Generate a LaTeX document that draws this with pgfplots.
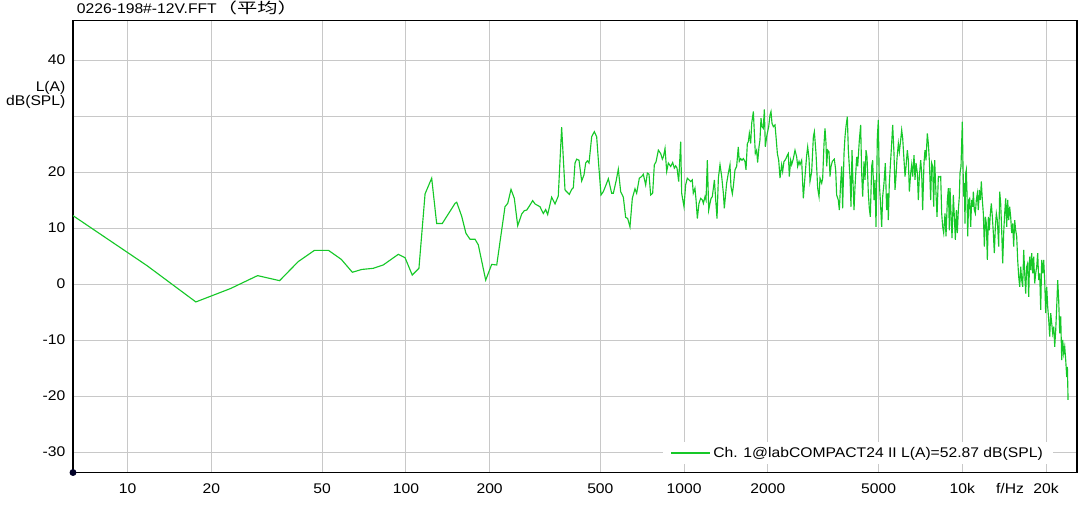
\documentclass[border=0pt]{standalone}
\usepackage{fontspec}
\usepackage{graphicx}
\setmainfont[FakeStretch=1.12]{Liberation Sans}
\newfontfamily\cjk{Noto Sans CJK SC}
\usepackage{pgfplots}
\pgfplotsset{compat=1.18}
\definecolor{curvegreen}{RGB}{22,200,40}
\definecolor{gridgray}{RGB}{200,200,200}
\newcommand{\lblfont}{\fontsize{10.5}{12}\selectfont}
\begin{document}
\begin{tikzpicture}
\begin{axis}[
  name=ax, at={(0pt,0pt)}, anchor=south west,
  scale only axis, width=753pt, height=339pt,
  xmode=log, xmin=6.36, xmax=25840, ymin=-33.66, ymax=47.05,
  xtick={10,20,50,100,200,500,1000,2000,5000,10000,20000},
  xticklabels={10,20,50,100,200,500,1000,2000,5000,10k,20k},
  extra x ticks={14840}, extra x tick labels={f/Hz},
  extra x tick style={grid=none},
  ytick={-30,-20,-10,0,10,20,30,40},
  yticklabels={-30,-20,-10,0,10,20,{},40},
  grid=major, major grid style={draw=gridgray, line width=0.75pt},
  major tick length=0pt, minor tick length=0pt,
  axis line style={line width=1pt, black},
  /pgf/number format/assume math mode=true,
  tick label style={font=\lblfont, inner sep=0pt},
  xticklabel style={anchor=base, yshift=-15.4pt},
  yticklabel style={anchor=east, xshift=-5.5pt},
  legend style={at={(0.9768,0.0431)}, anchor=east, draw=none, fill=white,
    inner xsep=6pt, inner ysep=2pt, font=\lblfont},
  legend cell align=left,
  legend image code/.code={\draw[curvegreen, line width=0.9pt] (-2pt,0pt) -- (27pt,0pt);},
]
\addplot[curvegreen, line width=0.85pt] table {
f db
5.86 13.4
11.72 3.3
17.58 -3.2
23.44 -0.8
29.30 1.5
35.16 0.6
41.02 4.0
46.88 6.0
52.73 6.0
58.59 4.4
64.2 2.1
69.4 2.6
76.3 2.8
82.9 3.4
93.9 5.3
99.3 4.7
105.4 1.6
111.4 2.8
117.2 16.1
123.8 18.9
129.0 10.8
135.1 10.8
150.2 14.4
152.3 14.6
158.7 12.1
164.4 9.05
170.0 8.0
177.2 8.0
182.1 7.0
193.6 0.7
203.4 3.5
212.1 3.4
227.1 13.8
232.3 14.4
238.7 16.9
245.3 15.3
252.3 10.4
260.8 12.5
266.5 13.1
271.8 13.2
277.7 13.9
285.6 14.9
291.1 14.3
303.4 13.8
311.9 12.6
318.0 13.3
323.3 12.4
334.2 15.5
343.6 14.3
353.0 15.7
363.0 28.0
373.2 16.8
386.8 16.0
394.4 16.9
399.9 17.2
405.4 21.6
411.0 22.3
419.0 22.1
428.4 18.4
436.8 19.5
442.8 21.6
449.0 22.0
455.2 21.6
465.4 26.3
475.7 27.2
485.0 26.3
491.8 22.1
502.7 15.9
512.5 16.5
524.0 17.7
534.2 18.8
549.1 16.2
556.7 16.2
569.1 18.3
580.2 20.5
591.6 16.5
604.8 15.5
616.6 11.9
626.9 11.7
639.0 10.2
651.5 15.3
666.0 17.0
675.3 16.2
690.4 18.9
703.9 19.2
713.7 19.6
727.6 17.7
737.8 19.8
748.0 19.6
758.4 15.9
771.0 16.2
781.7 21.3
792.6 21.8
808.1 23.9
823.9 23.3
835.3 22.3
842.3 22.7
854.0 24.2
865.9 20.1
877.7 21.6
894.8 21.0
909.8 21.7
922.4 20.7
932.7 21.1
943.0 20.7
956.2 18.3
972.1 25.4
980.2 16.2
999.1 13.8
1013 17.7
1027 18.9
1041 18.6
1056 18.3
1070 18.6
1079 16.2
1094 17.1
1104 15.0
1116 11.7
1131 14.4
1147 15.3
1163 15.0
1173 14.4
1189 15.6
1199 15.0
1212 22.1
1226 13.2
1239 14.4
1250 15.3
1263 15.6
1274 17.1
1285 18.6
1299 15.0
1313 11.7
1328 18.9
1346 21.3
1365 19.2
1384 16.2
1395 13.5
1411 16.2
1422 18.0
1442 19.8
1462 21.3
1474 17.4
1491 16.1
1503 17.4
1524 20.4
1545 21.0
1566 24.5
1579 21.9
1597 22.4
1615 22.1
1633 22.4
1655 21.9
1669 20.4
1688 25.1
1702 25.4
1716 26.9
1735 25.1
1750 28.7
1774 30.8
1788 27.2
1803 23.3
1823 23.9
1838 21.7
1859 24.5
1874 25.7
1890 29.6
1905 28.1
1926 27.8
1943 31.2
1959 24.5
1981 26.3
1997 27.2
2014 28.1
2036 30.2
2053 30.8
2070 28.7
2093 28.1
2122 28.4
2140 26.3
2164 23.3
2188 22.1
2212 18.9
2242 21.3
2261 20.1
2286 21.9
2305 22.1
2324 22.4
2350 23.0
2369 23.3
2389 19.2
2416 22.1
2436 21.3
2470 22.4
2504 23.9
2539 22.7
2560 21.0
2589 21.9
2610 21.3
2646 22.1
2683 15.3
2720 19.2
2758 23.0
2781 24.5
2812 22.4
2835 18.3
2875 20.1
2915 26.3
2939 27.2
2980 23.3
3021 17.1
3055 15.6
3080 18.9
3123 18.0
3149 18.9
3184 25.1
3210 27.8
3237 25.1
3255 21.0
3282 23.9
3318 23.6
3346 19.2
3373 21.0
3411 21.9
3439 22.1
3467 22.3
3506 20.4
3535 15.9
3584 15.0
3614 13.2
3654 18.0
3685 21.0
3715 13.5
3757 23.3
3788 26.3
3819 28.1
3862 29.9
3894 23.9
3926 21.0
3948 19.2
3981 13.8
4014 23.9
4036 19.8
4081 13.2
4115 17.4
4172 22.7
4207 21.0
4265 25.7
4312 28.4
4348 19.8
4384 15.6
4433 21.9
4470 18.6
4507 23.9
4544 22.7
4594 16.2
4632 13.5
4671 12.0
4723 21.0
4762 22.1
4815 15.0
4855 18.6
4896 10.2
4950 26.3
4991 29.3
5032 18.0
5074 15.0
5131 10.2
5173 15.6
5230 18.0
5288 21.6
5346 13.2
5391 16.2
5421 11.4
5466 18.0
5527 22.1
5573 25.1
5620 28.4
5682 23.3
5729 16.8
5777 19.2
5825 22.4
5890 25.1
5939 23.6
6005 25.7
6055 27.5
6106 26.0
6174 22.1
6225 19.2
6277 21.0
6346 23.9
6399 22.1
6452 16.5
6524 19.8
6577 21.3
6632 19.2
6706 23.0
6761 18.6
6818 21.6
6893 19.8
6950 15.0
7008 19.2
7086 22.1
7145 19.8
7203 13.2
7283 21.6
7344 23.9
7405 22.1
7487 26.9
7550 25.1
7613 22.1
7697 15.0
7761 21.6
7826 21.0
7891 13.8
7957 22.1
8023 17.4
8112 12.0
8202 19.2
8270 19.1
8362 19.2
8431 12.6
8501 10.2
8572 9.1
8667 12.6
8739 8.5
8836 15.0
8910 17.1
8984 9.6
9033 17.1
9108 12.6
9184 8.2
9286 15.9
9363 12.0
9441 7.9
9520 13.2
9598 9.1
9676 13.2
9757 15.6
9811 19.8
9892 21.0
9947 25.1
10002 29.0
10058 21.0
10114 15.6
10170 18.0
10226 10.8
10283 19.8
10340 20.4
10397 16.2
10455 8.5
10542 15.0
10629 15.3
10718 10.2
10807 15.0
10897 13.8
10957 16.5
11048 13.2
11140 12.6
11230 15.0
11324 16.2
11418 13.2
11513 16.8
11609 15.0
11706 18.3
11803 15.0
11902 12.6
12001 6.7
12101 12.0
12202 10.8
12303 4.3
12406 12.0
12509 9.6
12613 12.6
12716 14.4
12822 12.0
12929 9.1
13036 5.5
13145 10.2
13254 12.6
13365 11.4
13513 6.7
13626 16.5
13739 14.4
13853 9.6
13969 3.7
14085 9.1
14202 12.6
14321 15.3
14440 10.2
14560 15.0
14678 11.4
14800 13.8
14924 12.0
15048 9.1
15173 10.8
15300 6.7
15427 11.4
15556 9.6
15685 8.5
15816 4.3
15948 1.3
16081 -0.5
16214 3.1
16350 0.7
16486 -0.5
16623 6.1
16762 1.9
16898 -1.7
17039 3.1
17181 3.7
17324 -2.3
17468 4.9
17614 2.5
17760 5.5
17908 1.9
18057 4.9
18208 0.1
18359 1.9
18512 3.1
18666 5.5
18822 0.7
18978 1.9
19136 -4.6
19292 4.3
19453 1.9
19615 4.3
19779 0.7
19943 -5.2
20109 -0.5
20277 -4.1
20445 -6.4
20616 -9.4
20787 -5.2
20960 -7.0
21135 -8.8
21311 -7.6
21489 -11.2
21668 -8.2
21843 -4.1
22025 0.7
22209 -2.9
22394 -8.8
22580 -5.8
22768 -13.6
22958 -10.0
23149 -12.4
23342 -11.2
23536 -13.6
23732 -16.6
23864 -14.8
23996 -20.7
};
\addlegendentry{Ch. 1@labCOMPACT24 II L(A)=52.87 dB(SPL)}
\end{axis}
\fill[black!85!blue] (ax.south west) circle[radius=2.6pt];
\node[anchor=base west, inner sep=0pt, font=\lblfont] at (2.8pt,343.9pt) {0226-198\#-12V.FFT\scalebox{1.45}[1.05]{\cjk （平均）}};
\node[anchor=base east, inner sep=0pt, font=\lblfont] at (-5.5pt,285.6pt) {L(A)};
\node[anchor=base east, inner sep=0pt, font=\lblfont] at (-5.5pt,274.9pt) {dB(SPL)};
\pgfresetboundingbox
\path[use as bounding box] (-54.75pt,-25.1pt) rectangle (754.5pt,354.4pt);
\end{tikzpicture}
\end{document}
